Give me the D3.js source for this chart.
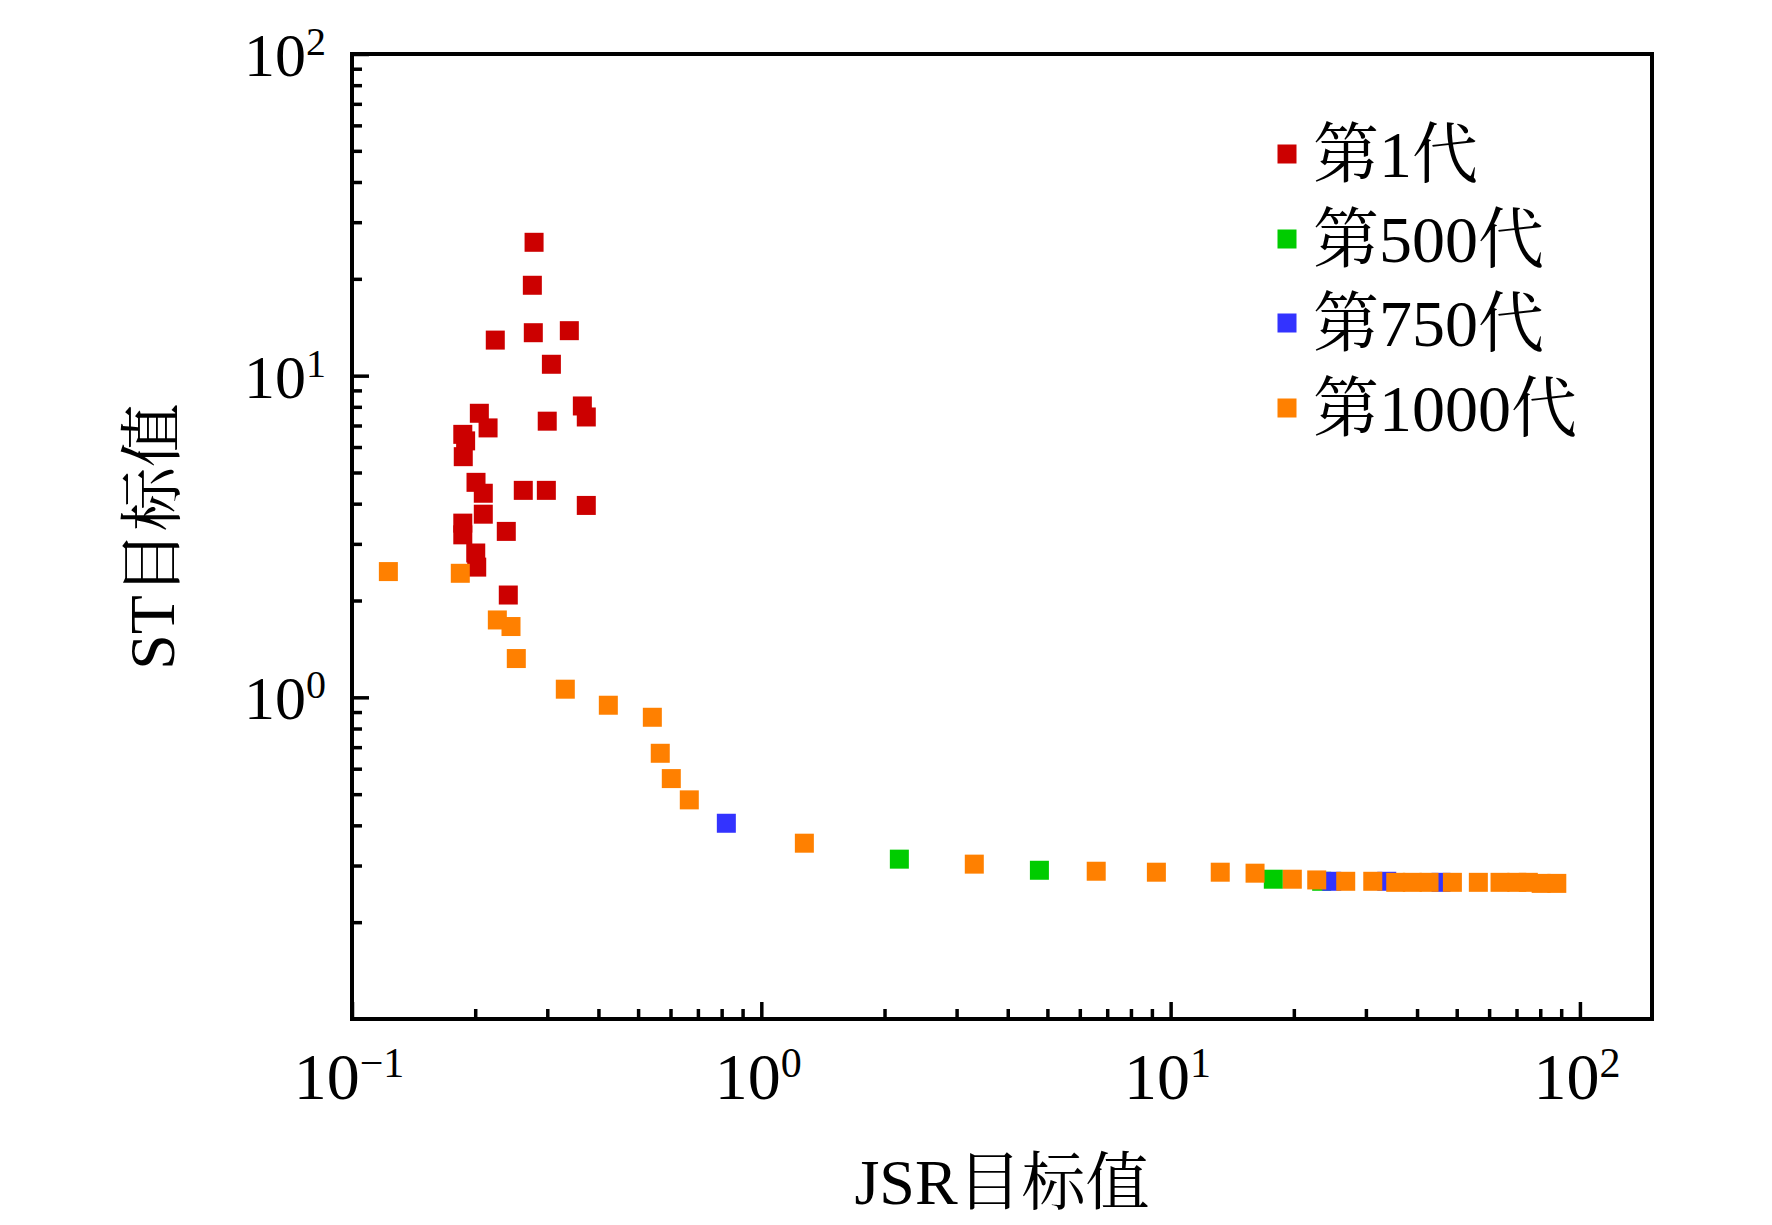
<!DOCTYPE html>
<html><head><meta charset="utf-8">
<script src="https://cdn.jsdelivr.net/npm/d3@7/dist/d3.min.js"></script>
<style>
html,body{margin:0;padding:0;background:#fff;}
text{font-family:"Liberation Serif","Times New Roman","Noto Serif CJK SC","Noto Sans CJK SC",serif;fill:#000;}
</style></head>
<body><svg id="c" width="1772" height="1225"></svg>
<script>
// ---- data ----
const seriesNames = ["第1代","第500代","第750代","第1000代"];
const seriesColors = ["#cc0000","#00cc00","#3333ff","#ff8000"];

const gen1X = [0.2785,0.2758,0.2773,0.3396,0.2239,0.307,0.3654,0.3736,0.2047,0.2999,0.2150,0.1865,0.1895,0.1870,0.2009,0.2093,0.2621,0.2984,0.3736,0.2093,0.1865,0.1865,0.2382,0.2006,0.2017,0.2409];
const gen1Y = [25.98,19.1,13.6,13.8,12.9,10.85,8.05,7.44,7.64,7.22,6.88,6.57,6.27,5.60,4.66,4.31,4.40,4.40,3.95,3.71,3.48,3.20,3.28,2.81,2.54,2.08];

const gen500X = [2.174,4.78,17.82,23.39];
const gen500Y = [0.314,0.290,0.272,0.268];

const gen750X = [0.8214,24.75,33.73,45.78];
const gen750Y = [0.406,0.268,0.268,0.266];

const gen1000X = [0.1227,0.1839,0.2265,0.2446,0.2520,0.3320,0.4229,0.5417,0.5664,0.6027,0.6669,1.274,3.314,6.58,9.23,13.22,16.08,19.83,22.75,26.78,31.18,35.48,38.95,42.79,48.8,56.47,63.8,70.1,74.8,80.4,87.8];
const gen1000Y = [2.46,2.43,1.74,1.66,1.32,1.06,0.945,0.867,0.670,0.559,0.480,0.352,0.303,0.288,0.286,0.286,0.284,0.272,0.2706,0.268,0.268,0.266,0.266,0.266,0.266,0.266,0.266,0.266,0.266,0.264,0.264];

const xMajor = [0.1,1,10,100];
const xMajorExp = ["−1","0","1","2"];
const yMajor = [1,10,100];
const yMajorExp = ["0","1","2"];
const xDomain = [0.1,150];
const yDomain = [0.1,100];
const xLabel = "JSR目标值";
const yLabel = "ST目标值";

// ---- layout ----
const L=352, R=1652, T=54, B=1019;
const svg = d3.select("#c");
const x = d3.scaleLog().domain(xDomain).range([L,R]);
const y = d3.scaleLog().domain(yDomain).range([B,T]);

function minorTicks(lo,hi){
  const out=[];
  for(let e=Math.floor(Math.log10(lo)); e<=Math.ceil(Math.log10(hi)); e++){
    for(let m=2;m<=9;m++){const v=m*Math.pow(10,e); if(v>lo&&v<hi) out.push(v);}
  }
  return out;
}

// points
const series = [[gen1X,gen1Y],[gen500X,gen500Y],[gen750X,gen750Y],[gen1000X,gen1000Y]];
const S=19;
series.forEach((s,i)=>{
  const pts = s[0].map((v,j)=>[v,s[1][j]]);
  svg.append("g").selectAll("rect").data(pts).join("rect")
    .attr("x",d=>x(d[0])-S/2).attr("y",d=>y(d[1])-S/2)
    .attr("width",S).attr("height",S).attr("fill",seriesColors[i]);
});

// axes (inward ticks)
const axStyle = g=>{g.select(".domain").remove(); g.selectAll("line").attr("stroke","#000").attr("stroke-width",3.5);};
svg.append("g").attr("transform",`translate(0,${B})`)
  .call(d3.axisBottom(x).tickValues(minorTicks(xDomain[0],xDomain[1])).tickSize(-10).tickFormat(""))
  .call(axStyle);
svg.append("g").attr("transform",`translate(0,${B})`)
  .call(d3.axisBottom(x).tickValues(xMajor).tickSize(-17).tickFormat(""))
  .call(axStyle);
svg.append("g").attr("transform",`translate(${L},0)`)
  .call(d3.axisLeft(y).tickValues(minorTicks(yDomain[0],yDomain[1])).tickSize(-10).tickFormat(""))
  .call(axStyle);
svg.append("g").attr("transform",`translate(${L},0)`)
  .call(d3.axisLeft(y).tickValues(yMajor).tickSize(-17).tickFormat(""))
  .call(axStyle);

// frame
svg.append("rect").attr("x",L).attr("y",T).attr("width",R-L).attr("height",B-T)
  .attr("fill","none").attr("stroke","#000").attr("stroke-width",4);

// x tick labels
xMajor.forEach((v,i)=>{
  const t = svg.append("text").attr("x",x(v)-3).attr("y",1099).attr("text-anchor","middle").style("font-size","66px");
  t.append("tspan").text("10");
  t.append("tspan").attr("dy",-22).style("font-size","42px").text(xMajorExp[i]);
});
// y tick labels
yMajor.forEach((v,i)=>{
  const t = svg.append("text").attr("x",326).attr("y",y(v)+22).attr("text-anchor","end").style("font-size","62px");
  t.append("tspan").text("10");
  t.append("tspan").attr("dy",-21).style("font-size","40px").text(yMajorExp[i]);
});

// axis titles
svg.append("text").attr("x",(L+R)/2).attr("y",1204).attr("text-anchor","middle").style("font-size","64px").text(xLabel);
svg.append("text").attr("transform",`translate(174,${(T+B)/2}) rotate(-90)`).attr("text-anchor","middle").style("font-size","64px").text(yLabel);

// legend
const legY = [154,239,323,408];
seriesNames.forEach((n,i)=>{
  svg.append("rect").attr("x",1287-S/2).attr("y",legY[i]-S/2).attr("width",S).attr("height",S).attr("fill",seriesColors[i]);
  svg.append("text").attr("x",1313).attr("y",legY[i]).attr("dominant-baseline","central").style("font-size","66px").text(n);
});
</script></body></html>
